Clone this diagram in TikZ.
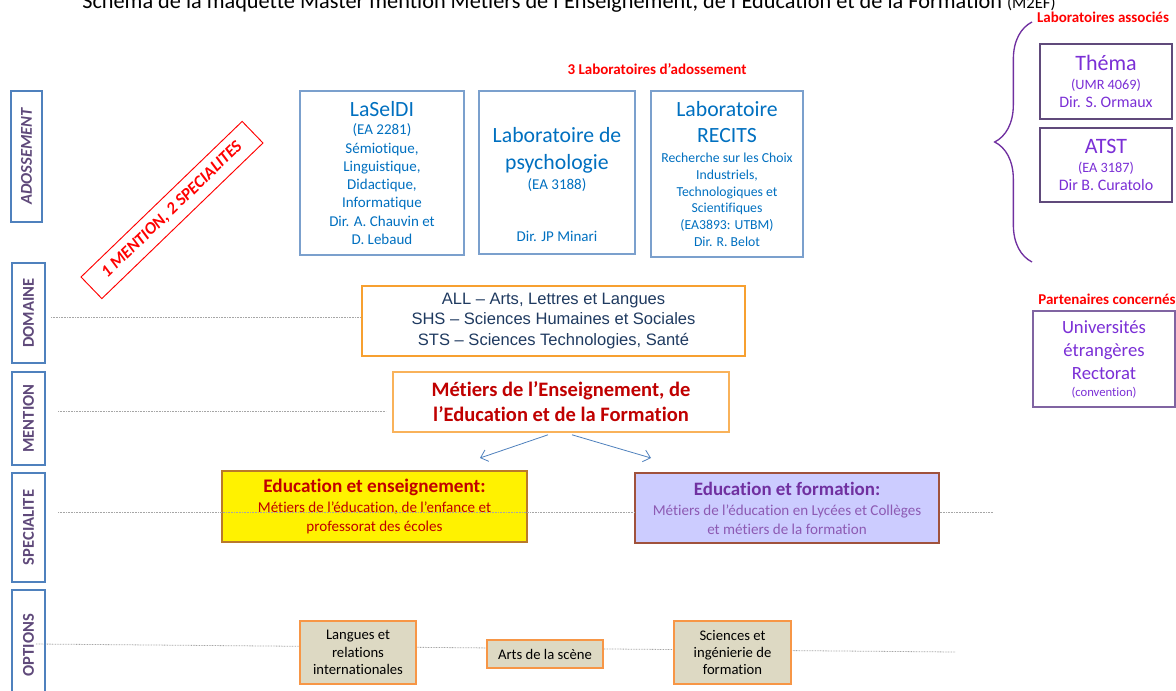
\documentclass[tikz,border=0pt]{standalone}
\usepackage{fontspec}
\setmainfont{Carlito}[Ligatures=NoCommon]
\newfontfamily\arialfont{Liberation Sans}
\usepackage{tikz}
\usetikzlibrary{positioning}
\usetikzlibrary{arrows.meta}
\usetikzlibrary{backgrounds}
\usetikzlibrary{calc}
\usetikzlibrary{decorations.pathreplacing}

\definecolor{labblue}{HTML}{7BA0CD}
\definecolor{labtext}{HTML}{0070C0}
\definecolor{sideblue}{HTML}{4F81BD}
\definecolor{sidetext}{HTML}{5F497A}
\definecolor{domorange}{HTML}{F7A030}
\definecolor{mentorange}{HTML}{F9B25A}
\definecolor{domtext}{HTML}{1F3A60}
\definecolor{darkred}{HTML}{C00000}
\definecolor{yelborder}{HTML}{B97A2A}
\definecolor{purfill}{HTML}{CCCCFF}
\definecolor{purborder}{HTML}{A0523C}
\definecolor{purtext}{HTML}{7030A0}
\definecolor{optfill}{HTML}{DDD9C3}
\definecolor{optborder}{HTML}{F79646}
\definecolor{assocviolet}{HTML}{7B2FD6}
\definecolor{assocborder}{HTML}{604A7B}
\definecolor{partborder}{HTML}{8064A2}

\newcommand{\fsz}[2]{\fontsize{#1}{#2}\selectfont}
\newcommand{\labbig}{\fsz{16.3}{20}}

\begin{document}
\begin{tikzpicture}[x=0.75pt,y=-0.75pt,
% Side labels style
    side/.style={rectangle,draw=sideblue,line width=0.9pt,rotate=90,
		text=sidetext,font=\fsz{12.4}{14}\bfseries,inner sep=0pt},
    redtag/.style={rectangle,draw=red,line width=0.7pt,rotate=44,text=red,
		font=\fsz{12.8}{14}\bfseries\itshape,inner sep=0pt},
% Laboratories style
    lab/.style={rectangle,draw=labblue,line width=0.9pt,text=labtext,
		align=center,inner sep=0pt,font=\fsz{11.25}{13.7}},
    assoc/.style={rectangle,draw=assocborder,line width=0.9pt,text=assocviolet,
		align=center,inner sep=0pt,font=\fsz{12}{13.5}},
    partner/.style={rectangle,draw=partborder,line width=0.9pt,text=assocviolet,
		align=center,inner sep=0pt,font=\fsz{14}{17.25}},
    redlabel/.style={text=red,font=\fsz{11.25}{13}\bfseries,inner sep=0pt},
% Formation boxes style
    domainbox/.style={rectangle,draw=domorange,line width=1pt,text=domtext,
		align=center,inner sep=0pt,font=\arialfont\fsz{12.4}{15.7}},
    mentionbox/.style={rectangle,draw=mentorange,line width=1.2pt,text=darkred,
		align=center,inner sep=0pt,font=\fsz{15.4}{18.8}\bfseries},
    specbox/.style={rectangle,line width=1pt,align=center,inner sep=0pt,
		font=\fsz{11.3}{14.2}},
    optbox/.style={rectangle,draw=optborder,fill=optfill,line width=0.9pt,
		align=center,inner sep=0pt,font=\fsz{11}{13}},
% Lines style
    guide/.style={draw=gray!70,line width=0.6pt,dash pattern=on 0.6pt off 0.6pt},
    link/.style={draw=sideblue,line width=0.6pt,-{Straight Barb[length=5pt,width=9pt]}},
    assocbrace/.style={draw=purtext,line width=1pt,decorate,
		decoration={brace,amplitude=28pt}}
    ]
  \useasboundingbox (0,0) rectangle (1176,691);
  \begin{pgfonlayer}{background}
    \fill[white] (0,0) rectangle (1176,691);
  \end{pgfonlayer}

  \node (title) [anchor=base,font=\fsz{16.7}{20}] at (569,9)
    {Schéma de la maquette Master mention Métiers de l’Enseignement, de l’Education et de la Formation {\fsz{12.5}{15}(M2EF)}};

% Side labels
  \node (lados) [side,minimum width=98.25pt,minimum height=23.25pt,
    font=\fsz{12.4}{14}\bfseries\itshape] at (26.5,156.5) {ADOSSEMENT};
  \node (ldom) [side,minimum width=75pt,minimum height=24.75pt] at (28.5,313) {DOMAINE};
  \node (lment) [side,minimum width=69.75pt,minimum height=24.75pt] at (28.5,418.5) {MENTION};
  \node (lspec) [side,minimum width=81.75pt,minimum height=24.75pt] at (28.5,527.5) {SPECIALITE};
  \node (lopt) [side,minimum width=82.5pt,minimum height=24.75pt] at (28.5,645) {OPTIONS};

  \node (slogan) [redtag,minimum width=168pt,minimum height=22.5pt] at (172,210)
    {1 MENTION, 2 SPECIALITES};

% Laboratories
  \node (labadoss) [redlabel] at (657,69) {3 Laboratoires d’adossement};
  \node (laseldi) [lab,minimum width=123pt,minimum height=123pt] at (382,173)
    {{\labbig LaSelDI}\\(EA 2281)\\Sémiotique,\\Linguistique,\\Didactique,\\Informatique\\Dir. A. Chauvin et\\D. Lebaud};
  \node (psycho) [lab,minimum width=117pt,minimum height=122.25pt] at (557,172.5) {};
  \node (psychotxt) [lab,draw=none,below=27pt of psycho.north]
    {{\labbig Laboratoire de}\\[6.5pt]{\labbig psychologie}\\[1.3pt](EA 3188)\\[26pt]Dir. JP Minari};
  \node (recits) [lab,font=\fsz{10.3}{12.5},minimum width=114pt,minimum height=124.5pt] at (727,174)
    {{\labbig Laboratoire}\\[7pt]{\labbig RECITS}\\[2.5pt]Recherche sur les Choix\\Industriels,\\Technologiques et\\Scientifiques\\(EA3893: UTBM)\\Dir. R. Belot};

  \node (labassoc) [redlabel] at (1103,17) {Laboratoires associés};
  \node (thema) [assoc,minimum width=99pt,minimum height=56.25pt] at (1106,81.5)
    {{\fsz{16.5}{18}Théma}\\[0.75pt]{\fsz{10.7}{12}(UMR 4069)}\\Dir. S. Ormaux};
  \node (atst) [assoc,minimum width=99pt,minimum height=55.5pt] at (1106,165)
    {{\fsz{16.5}{18}ATST}\\[0.75pt]{\fsz{10.7}{12}(EA 3187)}\\Dir B. Curatolo};
  \coordinate (bracebot) at (1032,262);
  \coordinate (bracetop) at (1032,22);
  \draw[assocbrace] (bracebot) -- (bracetop);

  \node (partners) [redlabel] at (1107,299) {Partenaires concernés};
  \node (univ) [partner,minimum width=106.5pt,minimum height=72pt] at (1104,359)
    {Universités\\étrangères\\Rectorat\\[-4.5pt]{\fsz{9.5}{11}(convention)}};

% Options line behind the boxes
  \coordinate (optl) at (36,644);
  \coordinate (optr) at (955,652);
  \begin{pgfonlayer}{background}
    \draw[guide] (optl) -- (optr);
  \end{pgfonlayer}

% Domaine, mention, specialites
  \node (domaine) [domainbox,minimum width=287.25pt,minimum height=52.5pt] at (553.5,321)
    {ALL – Arts, Lettres et Langues\\SHS – Sciences Humaines et Sociales\\STS – Sciences Technologies, Santé};
  \node (mention) [mentionbox,minimum width=252pt,minimum height=45pt] at (561,402)
    {Métiers de l’Enseignement, de\\l’Education et de la Formation};
  \node (eduens) [specbox,fill=yellow,draw=yelborder,text=darkred,
    minimum width=228.75pt,minimum height=53.25pt] at (374.5,506.5)
    {{\fsz{14.4}{16}\bfseries Education et enseignement:}\\[0.8pt]Métiers de l’éducation, de l’enfance et\\professorat des écoles};
  \node (eduform) [specbox,fill=purfill,draw=purborder,text=purtext!80,
    minimum width=228pt,minimum height=52.5pt] at (787,508)
    {{\fsz{14.2}{16}\bfseries\color{purtext}Education et formation:}\\[0.8pt]Métiers de l’éducation en Lycées et Collèges\\et métiers de la formation};

  \node (langues) [optbox,minimum width=87pt,minimum height=47.25pt] at (358,652.5)
    {Langues et\\relations\\internationales};
  \node (arts) [optbox,minimum width=87pt,minimum height=21pt] at (545,654) {Arts de la scène};
  \node (sciences) [optbox,minimum width=87.75pt,minimum height=47.25pt] at (732.5,652.5)
    {Sciences et\\ingénierie de\\formation};

% Dotted guides
  \coordinate (doml) at (51,317);
  \draw[guide] (doml) -- (doml -| domaine.west);
  \coordinate (mentl) at (58,411);
  \coordinate (mentr) at (386,411);
  \draw[guide] (mentl) -- (mentr);
  \coordinate (specl) at (58,512);
  \coordinate (specr) at (993,512);
  \draw[guide] (specl) -- (specl -| eduform.west);
  \draw[guide] (specl -| eduform.east) -- (specr);

% Arrows to the specialites
  \coordinate (arrl) at (480,458);
  \coordinate (arrr) at (651,458);
  \draw[link] ([xshift=-9.75pt,yshift=-1.5pt]mention.south) -- (arrl);
  \draw[link] ([xshift=8.25pt,yshift=-1.5pt]mention.south) -- (arrr);

\end{tikzpicture}
\end{document}
